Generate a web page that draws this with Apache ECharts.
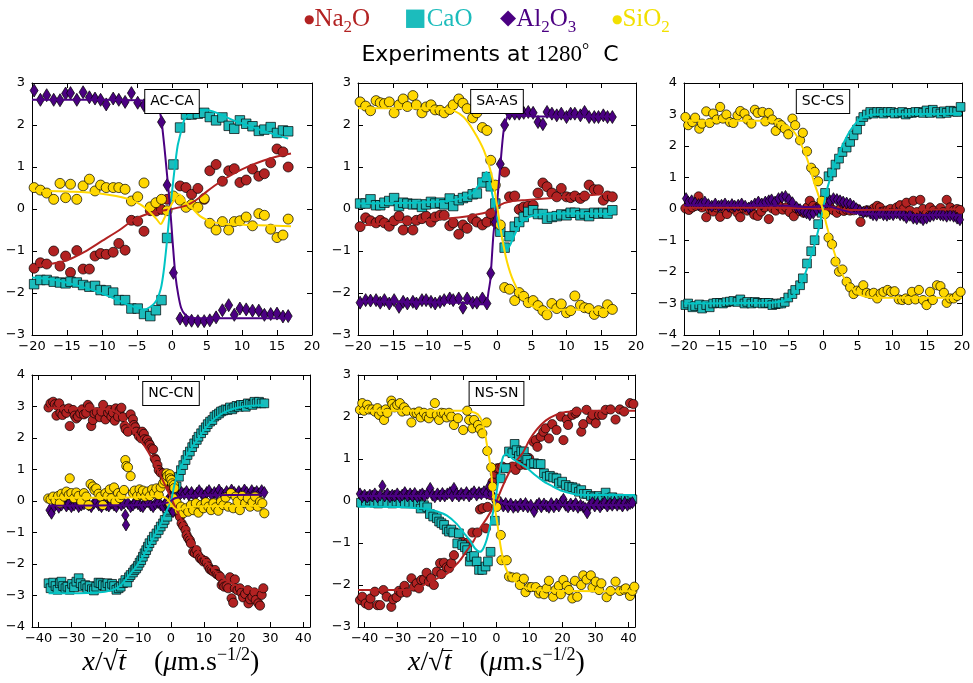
<!DOCTYPE html>
<html>
<head>
<meta charset="utf-8">
<script src="https://cdn.jsdelivr.net/npm/echarts@6.0.0/dist/echarts.min.js"></script>
<style>
html,body{margin:0;padding:0;background:#fff;}
#chart{width:973px;height:683px;}
</style>
</head>
<body>
<div id="chart"></div>
<script>
// ---------------- species ----------------
const speciesKeys = ['Na', 'Ca', 'Al', 'Si'];
const panelNames = ['AC-CA', 'SA-AS', 'SC-CS', 'NC-CN', 'NS-SN'];
const tickWide = [-40, -30, -20, -10, 0, 10, 20, 30, 40];

// ---------------- AC-CA ----------------
const acX = [-19.7,-18.8,-17.9,-16.9,-16.0,-15.2,-14.5,-13.6,-12.7,-11.8,-11.0,-10.2,-9.4,-8.4,-7.6,-6.7,-5.8,-4.9,-4.0,-3.1,-2.3,-1.5,-0.7,0.2,1.15,2.0,2.8,3.7,4.6,5.4,6.3,7.2,8.1,8.9,9.7,10.6,11.5,12.4,13.2,14.1,15.0,15.85,16.6];
const acNa = [-1.41,-1.28,-1.31,-1.0,-1.36,-1.12,-1.51,-0.99,-1.43,-1.43,-1.12,-1.06,-1.08,-1.03,-0.82,-0.98,-0.27,-0.29,-0.53,-0.04,-0.05,-0.01,0.23,null,0.55,0.51,0.35,0.49,0.23,0.91,1.06,0.66,0.91,0.96,0.63,0.69,0.95,0.78,0.84,1.10,1.43,1.36,1.00];
const acCa = [-1.79,-1.69,-1.69,-1.73,-1.75,-1.77,-1.73,-1.75,-1.81,-1.85,-1.83,-1.93,-1.94,-1.99,-2.17,-2.17,-2.37,-2.37,-2.50,-2.55,-2.41,-2.17,-0.69,1.06,1.94,2.25,2.25,2.27,2.29,2.19,2.11,2.18,1.98,1.91,2.11,2.03,1.97,1.86,1.89,1.95,1.81,1.87,1.85];
const acAl = [2.82,2.60,2.71,2.60,2.59,2.75,2.76,2.60,2.78,2.66,2.63,2.60,2.49,2.63,2.60,2.55,2.76,2.53,2.47,2.55,2.50,2.07,0.57,-1.52,-2.61,-2.65,-2.66,-2.67,-2.67,-2.65,-2.58,-2.41,-2.29,-2.52,-2.37,-2.39,-2.42,-2.42,-2.52,-2.50,-2.49,-2.56,-2.55];
const acSi = [0.51,0.45,0.38,0.23,0.61,0.27,0.59,0.23,0.55,0.71,0.43,0.57,0.51,0.51,0.51,0.47,0.19,0.29,0.62,0.05,0.15,0.23,-0.04,0.31,0.21,0.04,0.11,0.04,0.25,-0.34,-0.50,-0.30,-0.50,-0.30,-0.28,-0.19,-0.40,-0.11,-0.15,-0.48,-0.68,-0.62,-0.24];
const acNaFit = [[-20,-1.38],[-17,-1.3],[-15,-1.22],[-12.5,-1.02],[-10,-0.76],[-7.5,-0.5],[-5.5,-0.26],[-3.5,-0.12],[-2,-0.06],[0,0],[2,0.08],[3.5,0.22],[5,0.42],[7,0.66],[9,0.86],[11,1.02],[13,1.15],[15,1.25],[17,1.32]];
const acCaFit = [[-20,-1.63],[-17,-1.68],[-14,-1.8],[-11,-1.95],[-8,-2.15],[-6,-2.3],[-5,-2.35],[-4,-2.39],[-3,-2.32],[-2.2,-2.17],[-1.6,-1.9],[-1.2,-1.5],[-0.8,-0.9],[-0.4,-0.2],[0,0.4],[0.4,1.0],[0.8,1.5],[1.15,1.75],[1.6,2.05],[2,2.19],[3,2.3],[4,2.36],[5,2.36],[6.5,2.28],[8.8,2.11],[11,1.98],[13.6,1.83],[16.6,1.68]];
const acAlFit = [[-20,2.6],[-10,2.6],[-5,2.59],[-3,2.57],[-2.2,2.52],[-1.8,2.35],[-1.5,2.1],[-1.1,1.5],[-0.7,0.8],[-0.3,0.1],[0.1,-0.8],[0.5,-1.6],[0.9,-2.05],[1.3,-2.35],[1.8,-2.5],[2.5,-2.58],[4,-2.6],[17,-2.6]];
const acSiFit = [[-20,0.44],[-14,0.41],[-10.3,0.37],[-8,0.31],[-6.5,0.25],[-5,0.15],[-4,0.05],[-3,-0.1],[-2.2,-0.24],[-1.6,-0.36],[-1.1,-0.22],[-0.6,-0.05],[0,0.13],[0.5,0.27],[0.9,0.35],[1.4,0.3],[2.1,0.13],[3,0.0],[4,-0.17],[5,-0.26],[6.4,-0.33],[8,-0.36],[11,-0.38],[17,-0.41]];

// ---------------- SA-AS ----------------
const saX = [-19.7,-18.9,-18.2,-17.4,-16.8,-16.2,-15.5,-14.8,-14.1,-13.5,-12.9,-12.1,-11.6,-10.8,-10.2,-9.5,-8.9,-8.2,-7.6,-6.8,-6.3,-5.5,-4.9,-4.3,-3.5,-2.9,-2.1,-1.45,-0.9,-0.24,0.48,1.1,1.8,2.55,3.2,3.85,4.5,5.2,5.9,6.6,7.2,7.9,8.6,9.25,10.0,10.6,11.2,12.0,12.6,13.25,14.0,14.6,15.3,15.9,16.6];
const saNa = [-0.42,-0.21,-0.28,-0.33,-0.27,-0.33,-0.41,-0.28,-0.17,-0.50,-0.28,-0.50,-0.27,-0.23,-0.17,-0.31,-0.19,-0.15,-0.15,-0.40,-0.33,-0.60,-0.38,-0.46,-0.23,-0.31,-0.38,-0.31,-0.11,-0.31,null,0.88,0.29,0.31,-0.01,0.05,0.07,0.09,0.38,0.62,0.53,0.38,0.29,0.49,0.29,0.27,0.31,0.25,0.31,0.57,0.46,0.46,0.21,0.31,0.29];
const saCa = [0.13,0.13,0.23,0.09,0.09,0.15,0.19,0.26,0.07,0.15,0.13,0.11,0.12,0.05,0.11,0.17,0.13,0.15,0.11,0.25,0.07,0.21,0.26,0.29,0.35,0.37,0.63,0.76,0.54,0.13,-0.54,-0.92,-0.65,-0.42,-0.31,-0.19,-0.07,-0.03,-0.12,-0.12,-0.23,-0.19,-0.17,-0.13,-0.15,-0.09,-0.09,-0.15,-0.11,-0.17,-0.09,-0.11,-0.09,-0.11,-0.03];
const saAl = [-2.23,-2.17,-2.18,-2.17,-2.23,-2.17,-2.25,-2.17,-2.33,-2.21,-2.25,-2.21,-2.25,-2.17,-2.17,-2.21,-2.25,-2.21,-2.17,-2.13,-2.17,-2.13,-2.35,-2.13,-2.23,-2.23,-2.13,-2.25,-1.53,-0.31,1.07,2.0,2.27,2.27,2.27,2.29,2.31,2.29,2.07,2.02,2.31,2.27,2.23,2.27,2.19,2.27,2.27,2.23,2.31,2.19,2.19,2.19,2.23,2.19,2.19];
const saSi = [2.55,2.45,2.34,2.58,2.53,2.51,2.55,2.29,2.48,2.62,2.44,2.70,2.48,2.29,2.43,2.48,2.36,2.35,2.29,2.37,2.48,2.62,2.52,2.39,2.17,2.29,1.94,1.87,1.16,0.57,-0.38,-1.87,-1.91,-2.18,-1.99,-2.08,-2.23,-2.18,-2.30,-2.42,-2.52,-2.25,-2.37,-2.26,-2.47,-2.42,-2.07,-2.29,-2.35,-2.37,-2.51,-2.42,-2.47,-2.28,-2.39];
const saNaFit = [[-20,-0.4],[-15,-0.33],[-10,-0.26],[-5,-0.19],[-2,-0.1],[-1,-0.05],[0,0.05],[1,0.14],[2,0.18],[4,0.21],[8,0.26],[12,0.31],[16.6,0.37]];
const saCaFit = [[-20,0.13],[-12,0.15],[-8,0.18],[-6.3,0.21],[-4.5,0.3],[-3.4,0.4],[-2.5,0.6],[-2.1,0.72],[-1.5,0.88],[-1.0,0.6],[-0.5,0.2],[0,-0.2],[0.5,-0.55],[1.0,-0.82],[1.45,-0.94],[1.9,-0.85],[2.4,-0.66],[3.4,-0.34],[4.5,-0.2],[5.3,-0.15],[8.2,-0.11],[12,-0.11],[16.6,-0.12]];
const saAlFit = [[-20,-2.2],[-5,-2.23],[-2.5,-2.27],[-1.8,-2.27],[-1.45,-2.2],[-1.2,-1.95],[-0.96,-1.69],[-0.5,-0.58],[0,0.13],[0.5,1.08],[0.96,1.87],[1.45,2.19],[1.9,2.27],[3,2.24],[6,2.2],[16.6,2.2]];
const saSiFit = [[-20,2.4],[-10,2.4],[-7.5,2.38],[-6.3,2.35],[-4.8,2.19],[-3.4,1.87],[-1.9,1.4],[-0.7,0.76],[0,0.09],[0.7,-0.66],[1.45,-1.26],[2.4,-1.73],[3.9,-2.17],[5.8,-2.37],[8.2,-2.4],[16.6,-2.4]];

// ---------------- SC-CS ----------------
const scX = [-19.8,-19.4,-18.8,-18.4,-17.8,-17.4,-16.8,-16.3,-15.8,-15.3,-14.8,-14.4,-13.9,-13.4,-12.9,-12.3,-11.9,-11.3,-10.9,-10.3,-9.8,-9.4,-8.7,-8.3,-7.8,-7.3,-6.8,-6.4,-6.0,-5.5,-5.0,-4.4,-4.0,-3.3,-2.9,-2.3,-1.7,-1.2,-0.7,-0.2,0.3,0.8,1.3,1.8,2.3,2.8,3.4,3.9,4.4,4.9,5.4,5.8,6.3,6.8,7.3,7.8,8.3,8.7,9.3,9.8,10.3,10.9,11.4,11.9,12.3,12.8,13.3,13.8,14.4,14.9,15.4,15.8,16.4,16.9,17.4,17.8,18.3,18.8,19.3,19.8];
const scCa = [-3.05,-3.0,-3.12,-3.08,-3.03,-3.16,-3.05,-3.12,-3.0,-2.98,-2.98,-3.0,-2.96,-2.94,-2.92,-2.95,-2.87,-3.0,-2.95,-3.0,-2.95,-2.98,-3.0,-2.98,-2.98,-3.05,-3.02,-3.0,-3.0,-2.95,-2.81,-2.70,-2.57,-2.42,-2.20,-1.73,-1.34,-0.99,-0.48,-0.12,0.51,1.04,1.16,1.41,1.60,1.81,1.95,2.13,2.34,2.52,2.79,2.92,3.0,3.08,3.03,3.08,3.08,3.03,3.08,3.08,3.03,3.05,3.08,3.0,3.05,3.05,3.08,3.08,3.05,3.13,3.05,3.15,3.08,3.03,3.1,3.05,3.12,3.1,3.08,3.24];
const scSi = [2.92,2.66,2.76,2.90,2.55,2.71,3.10,2.73,3.03,2.84,3.24,2.87,3.00,2.76,2.73,2.97,3.11,3.03,2.84,2.71,3.15,3.05,3.08,2.78,3.05,2.84,2.48,2.73,2.66,2.55,2.37,2.87,2.66,2.18,2.42,1.83,1.31,1.18,0.88,0.26,-0.16,-0.91,-1.12,-1.67,-1.99,-1.92,-2.31,-2.49,-2.70,-2.59,-2.59,-2.42,-2.66,-2.70,-2.66,-2.84,-2.68,-2.63,-2.57,-2.63,-2.61,-2.87,-2.89,-2.84,-2.89,-2.63,-2.87,-2.57,-2.89,-3.05,-2.63,-2.89,-2.42,-2.45,-2.66,-2.98,-2.84,-2.84,-2.76,-2.63];
const scNa = [[-19.8,0.02],[-19.3,-0.03],[-18.8,0.05],[-18.3,0.1],[-17.9,0.4],[-17.4,0.05],[-16.8,-0.26],[-16.3,0.0],[-15.8,-0.08],[-15.3,0.05],[-14.8,-0.25],[-14.3,0.02],[-13.8,-0.16],[-13.3,0.05],[-12.8,0.0],[-12.3,-0.12],[-11.9,-0.26],[-11.4,0.02],[-10.9,-0.05],[-10.4,0.05],[-9.9,-0.18],[-9.4,-0.22],[-8.9,-0.08],[-8.4,0.05],[-7.8,-0.32],[-7.3,0.02],[-6.8,-0.05],[-6.3,0.1],[-5.8,-0.02],[-5.3,0.05],[-4.8,-0.1],[-4.2,-0.23],[-3.8,0.02],[-3.3,-0.07],[-2.8,-0.12],[-2.3,0.05],[-1.9,0.26],[-1.4,0.1],[-0.9,0.03],[-0.4,0.12],[0.1,0.02],[0.5,-0.06],[1.0,0.05],[1.5,-0.04],[2.0,-0.12],[2.5,0.0],[3.0,-0.06],[3.4,-0.02],[3.9,-0.05],[4.4,-0.04],[4.9,0.0],[5.4,-0.41],[5.9,-0.1],[6.3,-0.04],[6.8,-0.05],[7.3,0.02],[7.8,0.1],[8.2,0.05],[8.7,-0.08],[9.2,-0.05],[9.7,0.0],[10.2,-0.1],[10.6,0.05],[11.1,0.12],[11.6,0.0],[12.0,0.2],[12.5,-0.05],[13.0,0.26],[13.5,-0.1],[14.0,0.29],[14.4,0.0],[14.9,-0.15],[15.4,0.05],[15.9,-0.05],[16.4,-0.12],[16.9,0.03],[17.3,-0.1],[17.8,0.29],[18.3,0.05],[18.8,-0.05],[19.3,0.0],[19.7,-0.03]];
const scAl = [[-19.7,0.33],[-19.4,0.22],[-18.9,0.26],[-18.4,0.19],[-17.9,0.14],[-17.5,0.16],[-17.0,0.22],[-16.5,0.14],[-16.0,0.09],[-15.5,0.16],[-15.0,0.09],[-14.6,0.12],[-14.1,0.16],[-13.6,0.09],[-13.1,0.14],[-12.7,0.09],[-12.2,0.12],[-11.7,0.16],[-11.2,0.09],[-10.7,0.03],[-10.3,0.09],[-9.8,0.16],[-9.3,0.22],[-8.8,0.16],[-8.3,0.22],[-7.8,0.26],[-7.4,0.29],[-6.9,0.22],[-6.4,0.33],[-5.9,0.37],[-5.4,0.40],[-4.9,0.30],[-4.4,0.2],[-3.8,0.05],[-3.3,-0.02],[-2.8,-0.08],[-2.35,-0.13],[-1.9,-0.18],[-1.4,-0.13],[-0.9,-0.02],[-0.4,0.03],[0.05,0.09],[0.53,0.19],[1.0,0.26],[1.5,0.33],[2.0,0.30],[2.45,0.26],[2.9,0.22],[3.4,0.19],[3.9,0.16],[4.4,0.09],[4.8,0.01],[5.3,-0.05],[5.8,-0.10],[6.3,-0.08],[6.8,-0.13],[7.2,-0.18],[7.7,-0.20],[8.2,-0.13],[8.7,-0.18],[9.2,-0.20],[9.6,-0.16],[10.1,-0.18],[10.6,-0.13],[11.1,-0.18],[11.6,-0.20],[12.0,-0.27],[12.5,-0.20],[13.0,-0.29],[13.5,-0.31],[14.0,-0.27],[14.4,-0.34],[14.9,-0.29],[15.4,-0.23],[15.9,-0.20],[16.4,-0.16],[16.9,-0.18],[17.3,-0.20],[17.8,-0.23],[18.3,-0.20],[18.8,-0.23],[19.3,-0.29],[19.7,-0.34]];
const scNaFit = [[-20,0.04],[-10,0.04],[-5,0.03],[-2,0.02],[0,0.0],[2,-0.02],[5,-0.03],[10,-0.02],[20,-0.01]];
const scCaFit = [[-20,-3.0],[-8,-2.98],[-6.5,-2.95],[-5.15,-2.88],[-4.3,-2.75],[-3.7,-2.57],[-3,-2.3],[-2.3,-1.89],[-1.8,-1.55],[-1.3,-1.2],[-0.6,-0.6],[0,0],[0.5,0.55],[1.1,1.02],[1.8,1.5],[2.5,1.87],[3.2,2.2],[3.95,2.5],[4.7,2.72],[5.4,2.87],[6.3,2.95],[7.3,3.0],[20,3.02]];
const scAlFit = [[-20,0.12],[-10,0.12],[-5,0.1],[-2,0.06],[0,0.1],[1,0.08],[2.5,-0.02],[4,-0.1],[6,-0.15],[9,-0.18],[20,-0.2]];
const scSiFit = [[-20,2.8],[-8,2.8],[-6.5,2.74],[-5.15,2.63],[-4.3,2.48],[-3.7,2.29],[-3,1.98],[-2.3,1.6],[-1.8,1.25],[-1.3,0.86],[-0.6,0.4],[0,-0.04],[0.5,-0.5],[1.1,-0.99],[1.8,-1.5],[2.5,-1.94],[3.2,-2.25],[3.95,-2.47],[4.7,-2.63],[5.4,-2.73],[6.3,-2.79],[7.3,-2.82],[20,-2.82]];

// ---------------- NC-CN ----------------
const ncNa = [[-37.0,2.97],[-36.4,3.10],[-35.6,3.15],[-35.1,3.07],[-34.3,3.02],[-33.8,3.10],[-34.6,2.71],[-33.4,2.80],[-32.8,2.73],[-32.3,2.91],[-31.6,2.80],[-30.9,2.94],[-30.6,2.38],[-29.6,2.89],[-29.1,2.71],[-28.6,2.62],[-28.1,2.68],[-27.4,2.78],[-26.8,2.91],[-26.3,2.75],[-25.6,2.80],[-25.1,3.05],[-24.6,2.97],[-24.1,2.38],[-23.6,2.57],[-23.1,2.78],[-22.4,2.82],[-21.5,2.66],[-21.0,2.84],[-20.5,3.05],[-19.8,2.59],[-19.0,2.80],[-18.5,2.89],[-18.0,2.68],[-17.5,2.80],[-17.0,2.55],[-16.7,2.94],[-16.0,2.68],[-15.5,2.89],[-15.0,2.96],[-14.5,2.66],[-14.0,2.38],[-13.7,2.28],[-13.0,2.20],[-12.2,2.75],[-11.5,2.59],[-11.2,2.41],[-10.8,2.34],[-10.5,2.20],[-9.7,2.06],[-9.0,1.99],[-8.7,2.20],[-8.2,2.13],[-8.0,1.96],[-7.5,1.88],[-7.2,1.94],[-6.7,1.83],[-6.4,1.78],[-5.9,1.67],[-5.4,1.64],[-4.9,1.35],[-4.6,1.30],[-4.1,1.14],[-3.7,0.98],[-3.1,0.90],[-2.4,0.88],[-1.9,0.72],[-1.1,0.72],[-0.4,0.61],[0.3,0.51],[-0.6,0.56],[0.0,0.4],[0.7,0.30],[1.2,0.05],[1.8,-0.2],[2.2,-0.39],[2.7,-0.5],[3.2,-0.71],[3.7,-0.8],[4.4,-0.92],[4.7,-1.08],[5.2,-1.18],[5.7,-1.25],[6.0,-1.34],[6.7,-1.61],[7.2,-1.65],[7.7,-1.56],[8.1,-1.71],[8.8,-1.82],[9.3,-1.85],[9.8,-1.92],[10.3,-1.9],[10.8,-1.96],[11.3,-2.08],[11.8,-2.17],[12.3,-2.2],[12.8,-2.24],[13.3,-2.19],[13.8,-2.32],[14.3,-2.35],[14.8,-2.4],[15.3,-2.67],[15.8,-2.62],[16.1,-2.72],[16.8,-2.70],[17.3,-2.77],[17.8,-2.42],[18.3,-3.09],[18.8,-3.23],[19.3,-2.49],[19.3,-2.77],[20.1,-2.83],[20.8,-2.77],[21.3,-2.91],[21.8,-3.06],[22.4,-2.95],[23.2,-2.83],[23.4,-3.25],[23.9,-3.12],[24.6,-3.04],[25.2,-2.90],[25.6,-3.14],[26.4,-3.25],[26.9,-3.32],[27.4,-2.98],[27.9,-2.77]];
const ncCa = [[-37.0,-2.61],[-36.4,-2.77],[-35.6,-2.59],[-34.9,-2.70],[-34.3,-2.82],[-33.6,-2.61],[-33.1,-2.56],[-32.6,-2.70],[-31.9,-2.77],[-31.3,-2.72],[-30.6,-2.82],[-29.9,-2.63],[-29.3,-2.74],[-28.6,-2.56],[-27.9,-2.45],[-27.3,-2.61],[-26.6,-2.72],[-25.9,-2.67],[-25.3,-2.77],[-24.6,-2.70],[-23.9,-2.80],[-23.3,-2.84],[-22.6,-2.72],[-21.9,-2.59],[-21.3,-2.61],[-20.6,-2.67],[-19.8,-2.70],[-19.2,-2.61],[-18.5,-2.72],[-17.8,-2.63],[-17.2,-2.70],[-16.5,-2.82],[-15.8,-2.77],[-15.2,-2.72],[-14.5,-2.61],[-13.8,-2.51],[-13.2,-2.59],[-12.7,-2.42],[-12.2,-2.35],[-11.5,-2.27],[-11.0,-2.19],[-10.5,-2.14],[-10.0,-2.06],[-9.5,-1.96],[-9.0,-1.88],[-8.5,-1.77],[-8.0,-1.66],[-7.5,-1.56],[-7.0,-1.45],[-6.5,-1.34],[-5.8,-1.24],[-5.2,-1.13],[-4.4,-1.03],[-3.7,-0.92],[-3.1,-0.81],[-2.4,-0.71],[-1.9,-0.60],[-1.1,-0.50],[-0.4,-0.34],[0.3,-0.18],[-0.3,-0.28],[0.7,0.14],[1.7,0.46],[2.4,0.77],[3.0,0.98],[3.7,1.14],[4.4,1.30],[5.0,1.46],[5.7,1.57],[6.4,1.71],[7.0,1.83],[7.8,1.94],[8.3,2.04],[9.1,2.15],[9.8,2.25],[10.5,2.34],[11.1,2.44],[11.8,2.52],[12.5,2.57],[13.1,2.68],[13.8,2.73],[14.5,2.78],[15.1,2.84],[15.8,2.87],[16.5,2.91],[17.1,2.89],[17.8,2.97],[18.5,2.91],[19.1,2.97],[19.8,3.02],[20.5,2.99],[21.1,3.05],[21.9,3.05],[22.6,2.99],[23.2,3.10],[23.9,3.08],[24.6,3.05],[25.2,3.15],[25.9,3.10],[26.6,3.15],[27.4,3.10],[28.2,3.10]];
const ncAl = [[-36.7,-0.29],[-36.1,-0.39],[-35.3,-0.18],[-34.6,-0.07],[-33.9,-0.20],[-33.1,-0.13],[-32.3,-0.05],[-31.6,-0.16],[-30.9,-0.09],[-30.1,-0.18],[-29.3,-0.13],[-28.6,-0.05],[-27.9,-0.18],[-27.1,-0.13],[-26.3,-0.09],[-25.6,-0.02],[-24.9,-0.13],[-24.1,-0.18],[-23.3,-0.07],[-22.6,-0.02],[-21.8,-0.13],[-21.0,-0.18],[-20.2,-0.05],[-19.5,-0.13],[-18.8,-0.16],[-18.0,-0.07],[-17.2,-0.13],[-16.5,-0.18],[-15.8,-0.05],[-15.0,-0.13],[-14.2,-0.07],[-13.8,-0.45],[-13.6,-0.76],[-13.0,-0.07],[-12.2,-0.18],[-11.5,-0.13],[-10.8,-0.05],[-10.0,-0.09],[-9.2,-0.16],[-8.5,-0.18],[-7.8,-0.07],[-7.0,-0.02],[-6.1,-0.13],[-5.4,-0.18],[-4.7,-0.09],[-3.9,-0.05],[-3.1,-0.13],[-2.4,-0.18],[-1.7,-0.07],[-0.9,-0.13],[-0.1,-0.24],[0.6,-0.34],[-1.3,-0.02],[-0.6,0.09],[0.2,0.17],[1.0,0.23],[1.7,0.25],[2.4,0.16],[3.2,0.27],[4.0,0.23],[4.7,0.30],[5.4,0.19],[6.2,0.27],[7.1,0.16],[7.8,0.25],[8.5,0.33],[9.3,0.23],[10.1,0.16],[10.8,0.27],[11.5,0.33],[12.3,0.19],[13.1,0.27],[13.8,0.23],[14.5,0.35],[15.3,0.25],[16.1,0.19],[16.8,0.30],[17.5,0.23],[18.3,0.35],[19.1,0.27],[19.8,0.19],[20.5,0.30],[21.3,0.23],[22.2,0.35],[22.9,0.27],[23.6,0.19],[24.4,0.33],[25.2,0.25],[25.9,0.30],[26.6,0.23],[27.4,0.33],[28.2,0.27]];
const ncSi = [[-37.1,0.08],[-36.4,0.05],[-35.6,0.14],[-34.9,0.02],[-34.1,0.16],[-33.6,-0.07],[-33.1,0.23],[-32.3,0.14],[-31.6,0.30],[-30.9,0.19],[-30.6,0.72],[-30.1,0.25],[-29.3,0.09],[-28.6,0.27],[-27.9,0.16],[-27.1,-0.02],[-26.3,0.25],[-25.6,0.14],[-24.9,-0.13],[-24.3,0.54],[-23.6,0.46],[-23.1,0.35],[-22.6,0.40],[-21.9,0.23],[-21.3,0.14],[-20.6,-0.13],[-19.8,0.25],[-19.2,0.16],[-18.5,0.37],[-18.0,0.09],[-17.2,0.43],[-16.8,-0.02],[-16.0,0.25],[-15.5,0.09],[-15.0,0.19],[-14.2,0.35],[-13.8,1.30],[-13.5,1.11],[-13.0,1.07],[-12.2,0.79],[-11.5,0.25],[-11.0,0.33],[-10.2,0.16],[-9.5,0.37],[-9.0,0.19],[-8.5,0.33],[-7.8,0.14],[-7.2,0.30],[-6.4,0.16],[-5.7,0.37],[-5.1,0.25],[-4.4,0.40],[-3.7,0.19],[-3.1,0.43],[-2.4,0.56],[-1.9,0.64],[-1.3,0.88],[-1.1,0.79],[-0.4,0.85],[-0.3,0.72],[0.1,0.67],[0.4,0.56],[0.9,0.51],[1.0,0.41],[-0.3,-0.07],[0.7,0.09],[1.7,-0.04],[2.4,-0.29],[3.0,-0.18],[3.7,-0.39],[4.4,-0.23],[5.2,-0.34],[6.0,-0.13],[6.7,-0.29],[7.5,-0.07],[8.3,-0.37],[9.1,-0.13],[9.8,-0.23],[10.5,-0.04],[11.3,-0.18],[12.1,-0.29],[12.8,-0.07],[13.5,-0.20],[14.3,-0.31],[15.1,-0.02],[15.8,-0.13],[16.5,0.11],[17.3,-0.18],[18.1,0.25],[18.8,-0.23],[19.5,0.14],[20.1,-0.02],[20.8,-0.29],[21.5,0.16],[22.4,-0.07],[23.2,0.09],[23.9,-0.18],[24.6,-0.04],[25.4,0.14],[26.2,-0.18],[26.9,-0.02],[27.6,-0.07],[28.2,-0.39]];
const ncNaFit = [[-37,2.95],[-25,2.94],[-20,2.92],[-17,2.85],[-15,2.7],[-13.5,2.5],[-12,2.3],[-10,2.04],[-8,1.75],[-6,1.4],[-4,0.98],[-2,0.55],[0,0.1],[2,-0.35],[4,-0.8],[6,-1.2],[8,-1.55],[10,-1.85],[12,-2.1],[15,-2.4],[18,-2.6],[22,-2.75],[28,-2.85]];
const ncCaFit = [[-37,-2.93],[-25,-2.92],[-20,-2.88],[-17,-2.8],[-15,-2.65],[-13,-2.4],[-11,-2.15],[-9,-1.85],[-7,-1.5],[-5,-1.1],[-3,-0.7],[-1.5,-0.35],[0,0.0],[1,0.5],[2,0.85],[4,1.3],[6,1.65],[8,1.95],[10,2.25],[12,2.5],[15,2.75],[18,2.9],[22,3.0],[28,3.05]];
const ncAlFit = [[-37,-0.15],[-10,-0.13],[-4,-0.1],[-1,-0.05],[0,0.0],[1,0.08],[4,0.15],[10,0.18],[28,0.2]];
const ncSiFit = [[-37,0.1],[-20,0.1],[-10,0.12],[-5,0.15],[-2,0.12],[-1,0.05],[0,-0.1],[1,-0.22],[2,-0.28],[3,-0.25],[5,-0.2],[10,-0.17],[28,-0.15]];

// ---------------- NS-SN ----------------
const nsNa = [[-41.4,-2.36],[-40.7,-2.28],[-39.7,-2.44],[-38.7,-2.48],[-38.2,-2.32],[-36.9,-2.16],[-36.1,-2.48],[-35.3,-2.48],[-34.3,-2.12],[-33.3,-2.28],[-31.9,-2.52],[-31.3,-2.34],[-30.3,-2.29],[-29.6,-2.14],[-28.9,-2.18],[-27.9,-2.02],[-27.2,-2.18],[-25.8,-1.84],[-25.0,-2.04],[-24.2,-1.96],[-23.5,-2.08],[-22.8,-1.88],[-22.0,-1.87],[-21.2,-1.71],[-20.5,-1.92],[-19.8,-1.84],[-19.0,-2.0],[-18.1,-1.68],[-17.1,-1.48],[-16.7,-1.74],[-15.9,-1.47],[-15.1,-1.58],[-14.4,-1.60],[-13.7,-1.48],[-12.9,-1.29],[-10.4,-0.97],[-8.9,-1.0],[-7.3,-0.75],[-5.8,-0.75],[-5.0,-0.2],[-4.2,-0.17],[-3.2,-0.65],[-2.7,-0.14],[-1.8,0.14],[-1.2,0.45],[-0.5,0.65],[0.25,0.78],[0.8,0.78],[1.8,0.82],[3.3,0.78],[4.8,0.82],[5.8,0.74],[7.3,0.86],[8.8,0.86],[9.9,1.02],[11.2,1.41],[11.9,1.45],[12.4,1.29],[13.4,1.53],[14.2,1.65],[14.9,1.73],[15.9,1.49],[16.9,1.83],[18.2,1.69],[19.5,2.01],[20.3,1.45],[21.3,1.94],[21.7,1.81],[23.0,2.05],[24.0,2.09],[24.3,2.13],[25.7,1.65],[26.3,1.83],[27.3,2.17],[28.6,1.94],[29.1,2.05],[30.1,1.85],[31.1,2.05],[32.1,2.05],[33.1,2.17],[34.6,2.18],[36.1,1.94],[37.4,2.18],[38.7,2.13],[40.5,2.33],[41.5,2.31]];
const nsCa = [[-41.1,-0.04],[-39.6,-0.02],[-38.4,0.01],[-37.1,-0.04],[-35.9,-0.06],[-34.6,-0.02],[-33.1,-0.04],[-31.6,-0.06],[-30.3,-0.02],[-29.1,-0.04],[-27.8,-0.06],[-26.5,-0.04],[-25.2,-0.06],[-23.8,-0.06],[-23.0,-0.18],[-22.0,-0.10],[-21.0,-0.15],[-20.2,-0.31],[-19.2,-0.37],[-18.1,-0.41],[-17.4,-0.49],[-16.7,-0.53],[-15.9,-0.57],[-15.1,-0.68],[-14.4,-0.73],[-13.7,-0.68],[-13.1,-0.75],[-11.9,-1.01],[-11.4,-0.77],[-10.4,-1.05],[-9.6,-1.10],[-8.9,-1.17],[-8.1,-1.44],[-7.7,-1.33],[-6.8,-1.31],[-6.0,-1.44],[-5.3,-1.64],[-4.3,-1.64],[-3.3,-1.56],[-2.6,-1.44],[-1.8,-1.21],[-0.5,-0.47],[1.26,0.54],[2.8,0.78],[3.79,1.18],[4.8,1.14],[5.5,1.36],[6.1,1.21],[6.8,1.07],[7.5,1.18],[8.3,1.18],[8.8,1.02],[9.3,0.98],[10.4,0.88],[11.4,0.90],[12.6,0.88],[13.4,0.88],[14.4,0.66],[15.2,0.58],[16.2,0.60],[17.2,0.56],[18.2,0.54],[18.9,0.42],[19.9,0.46],[21.0,0.38],[22.0,0.34],[23.0,0.33],[24.0,0.30],[25.0,0.22],[25.7,0.26],[26.5,0.17],[27.5,0.17],[28.6,0.12],[29.6,0.09],[31.1,0.12],[32.1,0.06],[33.1,0.20],[34.1,0.06],[35.1,0.09],[36.1,0.04],[37.1,0.06],[38.2,0.02],[39.2,0.04],[40.2,0.02],[41.2,0.04]];
const nsAl = [[-41.4,0.17],[-40.7,0.10],[-40.0,0.14],[-39.2,0.09],[-38.4,0.14],[-37.7,0.12],[-36.9,0.17],[-36.1,0.10],[-35.3,0.14],[-34.6,0.36],[-33.9,0.12],[-33.1,0.17],[-32.3,0.10],[-31.6,0.14],[-30.9,0.12],[-30.1,0.17],[-29.3,0.10],[-28.6,0.14],[-27.8,0.20],[-27.0,0.12],[-26.2,0.17],[-25.5,0.12],[-24.8,0.18],[-24.0,0.10],[-23.2,0.14],[-22.5,0.17],[-21.8,0.12],[-20.9,0.18],[-20.1,0.30],[-19.4,0.14],[-18.7,0.10],[-17.9,0.17],[-17.1,0.12],[-16.4,0.18],[-15.7,0.12],[-14.9,0.17],[-14.1,0.20],[-13.4,0.12],[-12.9,0.30],[-12.1,0.17],[-11.4,0.12],[-10.7,0.18],[-9.9,0.14],[-9.1,0.20],[-8.3,0.12],[-7.6,0.17],[-6.8,0.22],[-6.0,0.14],[-5.3,0.20],[-4.6,0.17],[-3.8,0.22],[-3.0,0.18],[-2.3,0.34],[-1.6,0.17],[-0.25,-0.02],[0.45,-0.10],[1.26,-0.04],[2.07,-0.12],[2.78,-0.06],[3.49,-0.14],[4.3,-0.07],[5.1,-0.15],[5.8,-0.10],[6.5,-0.14],[7.3,-0.07],[8.1,-0.12],[8.8,-0.06],[9.5,-0.14],[10.4,-0.10],[11.4,-0.25],[12.2,-0.10],[12.9,-0.06],[13.6,-0.14],[14.4,-0.07],[15.2,-0.12],[15.9,-0.15],[16.6,-0.06],[17.4,-0.14],[18.2,-0.07],[18.9,-0.12],[19.7,-0.02],[20.3,0.04],[21.0,-0.10],[21.7,-0.14],[22.5,-0.07],[23.3,-0.12],[24.0,-0.06],[24.7,-0.15],[25.5,-0.10],[26.3,-0.14],[27.0,-0.18],[27.5,-0.28],[28.3,-0.10],[29.1,-0.04],[29.8,-0.12],[30.6,-0.06],[31.4,-0.14],[32.1,-0.07],[32.8,-0.04],[33.6,-0.12],[34.4,-0.06],[35.1,-0.10],[35.8,-0.04],[36.6,-0.10],[37.4,-0.06],[38.2,-0.12],[38.9,-0.04],[39.7,-0.10],[40.5,-0.06],[41.2,-0.04]];
const nsSi = [[-41.4,2.17],[-40.7,2.33],[-40.2,2.15],[-39.2,2.29],[-38.7,2.18],[-37.7,2.18],[-36.9,2.13],[-36.1,2.21],[-35.6,2.05],[-34.9,2.13],[-34.1,1.93],[-33.6,2.18],[-33.1,2.10],[-31.9,2.39],[-31.6,2.31],[-30.9,2.23],[-30.1,2.29],[-29.3,2.33],[-28.6,2.13],[-28.0,2.23],[-27.2,2.15],[-25.8,1.87],[-25.0,2.10],[-24.2,2.09],[-23.5,2.13],[-23.0,1.99],[-22.0,2.10],[-21.2,2.01],[-20.5,1.97],[-20.0,2.09],[-18.7,2.33],[-18.1,2.05],[-17.4,1.93],[-16.7,2.10],[-15.9,2.09],[-15.1,1.99],[-14.4,2.10],[-13.7,2.01],[-12.9,1.81],[-11.7,1.97],[-10.1,1.69],[-8.9,2.15],[-8.3,1.93],[-7.3,1.73],[-6.8,1.93],[-5.6,1.81],[-5.0,1.71],[-4.3,1.61],[-3.0,1.87],[-2.8,1.19],[-1.6,0.80],[-1.2,0.34],[-0.25,0.06],[0.05,-0.14],[1.3,-0.81],[1.5,-1.41],[3.1,-1.41],[3.8,-1.80],[4.8,-1.82],[6.1,-1.82],[7.1,-2.0],[8.3,-1.85],[8.8,-2.17],[9.9,-2.05],[10.6,-2.05],[11.9,-2.05],[12.9,-2.2],[13.4,-2.14],[14.4,-2.22],[15.2,-2.08],[15.9,-1.90],[17.2,-2.28],[17.9,-2.12],[18.9,-2.02],[19.5,-2.22],[20.3,-1.88],[21.3,-2.02],[22.0,-2.12],[23.0,-2.32],[23.8,-1.90],[24.5,-2.28],[25.7,-2.0],[26.3,-1.77],[27.3,-1.87],[28.6,-1.77],[29.1,-2.06],[30.1,-1.92],[31.1,-2.12],[31.8,-1.96],[33.4,-2.29],[34.6,-2.14],[36.1,-1.92],[37.4,-2.14],[38.7,-2.11],[39.2,-2.08],[40.5,-2.26],[41.2,-2.14],[41.8,-2.04]];
const nsNaFit = [[-42,-2.12],[-28,-2.12],[-24,-2.07],[-21,-1.96],[-18,-1.84],[-15,-1.73],[-13,-1.58],[-11,-1.41],[-9,-1.18],[-7,-0.96],[-5,-0.65],[-3,-0.42],[-1,-0.15],[0,0.0],[2,0.37],[4,0.7],[6,0.95],[8,1.15],[10,1.45],[12,1.68],[15,1.92],[18,2.05],[21,2.12],[30,2.15],[42,2.15]];
const nsCaFit = [[-42,-0.13],[-30,-0.14],[-22,-0.18],[-18,-0.25],[-15,-0.35],[-12,-0.55],[-10,-0.75],[-8,-0.95],[-6.5,-1.13],[-5,-1.21],[-4,-1.13],[-3,-0.93],[-2,-0.61],[-1,-0.25],[0,0.2],[1,0.7],[2,1.05],[3,1.12],[5,1.0],[7,0.9],[9.3,0.78],[12,0.6],[14.4,0.46],[17,0.35],[19.5,0.25],[25,0.15],[42,0.14]];
const nsAlFit = [[-42,0.12],[-10,0.12],[-3,0.1],[0,0.0],[3,-0.07],[10,-0.09],[42,-0.1]];
const nsSiFit = [[-42,2.15],[-10,2.15],[-6.5,2.1],[-5,2.0],[-3.8,1.73],[-2.8,1.29],[-1.8,0.81],[-0.8,0.0],[0.25,-0.53],[1.26,-1.09],[2.3,-1.48],[3.8,-1.76],[6.3,-1.96],[9.3,-2.08],[15,-2.13],[42,-2.15]];

// ---------------- assembly ----------------
const zipXY = (xs, ys) => xs.map((x, i) => [x, ys[i]]).filter(p => p[1] !== null);

const STYLE = {
  Na: {color: '#b22222', line: '#b22222', symbol: 'circle', size: 10},
  Ca: {color: '#1cbcbc', line: '#00c4c4', symbol: 'rect', size: 9.5},
  Al: {color: '#4b0082', line: '#4b0082', symbol: 'diamond', size: [8, 13]},
  Si: {color: '#ffd700', line: '#ffd700', symbol: 'circle', size: 10}
};

const panels = [
  {rect: [32, 83, 280, 252], x: [-20, 20, 5], y: [-3, 3, 1], scale: 1,
   pts: {Na: zipXY(acX, acNa), Ca: zipXY(acX, acCa), Al: zipXY(acX, acAl), Si: zipXY(acX, acSi)},
   fit: {Na: acNaFit, Ca: acCaFit, Al: acAlFit, Si: acSiFit}},
  {rect: [358, 83, 278, 252], x: [-20, 20, 5], y: [-3, 3, 1], scale: 1,
   pts: {Na: zipXY(saX, saNa), Ca: zipXY(saX, saCa), Al: zipXY(saX, saAl), Si: zipXY(saX, saSi)},
   fit: {Na: saNaFit, Ca: saCaFit, Al: saAlFit, Si: saSiFit}},
  {rect: [684, 83, 278, 252], x: [-20, 20, 5], y: [-4, 4, 1], scale: 0.92,
   pts: {Na: scNa, Ca: zipXY(scX, scCa), Al: scAl, Si: zipXY(scX, scSi)},
   fit: {Na: scNaFit, Ca: scCaFit, Al: scAlFit, Si: scSiFit}},
  {rect: [32, 375, 278, 252], x: [-42, 42], xTicks: tickWide, y: [-4, 4, 1], scale: 0.92,
   pts: {Na: ncNa, Ca: ncCa, Al: ncAl, Si: ncSi},
   fit: {Na: ncNaFit, Ca: ncCaFit, Al: ncAlFit, Si: ncSiFit}},
  {rect: [358, 375, 277, 252], x: [-42, 42], xTicks: tickWide, y: [-3, 3, 1], scale: 0.92,
   pts: {Na: nsNa, Ca: nsCa, Al: nsAl, Si: nsSi},
   fit: {Na: nsNaFit, Ca: nsCaFit, Al: nsAlFit, Si: nsSiFit}}
];

const SANS = '"DejaVu Sans", sans-serif';
const SERIF = '"Liberation Serif", "DejaVu Serif", serif';
const minusFmt = v => (v < 0 ? '\u2212' + Math.abs(v) : String(v));

function axis(gi, kind, pos, range, ticks, labels) {
  const a = {
    type: 'value', gridIndex: gi, position: pos, min: range[0], max: range[1],
    axisLine: {show: true, onZero: false, lineStyle: {color: '#000', width: 1}},
    axisTick: {show: true, inside: true, length: 5, lineStyle: {color: '#000', width: 1}},
    splitLine: {show: false},
    axisLabel: {show: labels, color: '#000', fontSize: 13, fontFamily: SANS,
                margin: kind === 'x' ? 5 : 7, formatter: minusFmt, hideOverlap: false,
                showMinLabel: true, showMaxLabel: true},
    axisPointer: {show: false}
  };
  if (ticks) {
    a.axisTick.customValues = ticks;
    a.axisLabel.customValues = ticks;
  } else {
    a.interval = range[2];
  }
  return a;
}

const grids = [], xAxes = [], yAxes = [], series = [], graphics = [];
panels.forEach((p, gi) => {
  grids.push({left: p.rect[0], top: p.rect[1], width: p.rect[2], height: p.rect[3], containLabel: false, outerBoundsMode: 'none'});
  xAxes.push(axis(gi, 'x', 'bottom', p.x, p.xTicks, true));
  xAxes.push(axis(gi, 'x', 'top', p.x, p.xTicks, false));
  yAxes.push(axis(gi, 'y', 'left', p.y, null, true));
  yAxes.push(axis(gi, 'y', 'right', p.y, null, false));
  const xi = gi * 2, yi = gi * 2;
  speciesKeys.forEach(k => {
    const s = STYLE[k];
    const size = Array.isArray(s.size) ? s.size.map(v => v * p.scale) : s.size * p.scale;
    series.push({
      type: 'scatter', xAxisIndex: xi, yAxisIndex: yi, data: p.pts[k],
      symbol: s.symbol, symbolSize: size, silent: true, z: 2,
      itemStyle: {color: s.color, borderColor: '#000', borderWidth: 0.7, opacity: 1}
    });
  });
  speciesKeys.forEach(k => {
    series.push({
      type: 'line', xAxisIndex: xi, yAxisIndex: yi, data: p.fit[k],
      showSymbol: false, symbol: 'none', smooth: 0.25, silent: true, z: 3,
      lineStyle: {color: STYLE[k].line, width: 2}
    });
  });
  // label box at the top centre of each panel
  graphics.push({
    type: 'text', z: 100, x: p.rect[0] + p.rect[2] / 2, y: p.rect[1] + 18.5,
    style: {text: panelNames[gi], font: '14px ' + SANS, fill: '#000',
            align: 'center', verticalAlign: 'middle', textAlign: 'center', textVerticalAlign: 'middle',
            backgroundColor: '#fff', borderColor: '#000', borderWidth: 1, padding: [5, 5, 4, 5]}
  });
});

// text runs laid out left to right (mixed fonts, subscripts, superscripts)
const measureCtx = document.createElement('canvas').getContext('2d');
function textWidth(t, font) { measureCtx.font = font; return measureCtx.measureText(t).width; }
function runsWidth(runs) { return runs.reduce((w, r) => w + (r.gap || textWidth(r.t, r.font)), 0); }
function placeRunsFrom(runs, x0, cy) {
  let x = x0;
  const pos = [];
  runs.forEach(r => {
    if (r.gap) { x += r.gap; pos.push(null); return; }
    const w = textWidth(r.t, r.font);
    graphics.push({type: 'text', z: 100, x: x, y: cy + (r.dy || 0),
      style: {text: r.t, font: r.font, fill: r.color || '#000', align: 'left', textAlign: 'left',
              verticalAlign: 'middle', textVerticalAlign: 'middle'}});
    pos.push([x, x + w]);
    x += w;
  });
  return pos;
}
function placeRuns(runs, cx, cy) { return placeRunsFrom(runs, cx - runsWidth(runs) / 2, cy); }

// legend line: one entry per oxide
const LF = '25px ' + SERIF, LS = '17px ' + SERIF, DOT = '12px ' + SANS;
const legendEntries = [
  {x: 304, runs: [{t: '\u25CF', font: DOT, color: '#b22222', dy: 1}, {t: 'Na', font: LF, color: '#b22222'},
                  {t: '2', font: LS, color: '#b22222', dy: 9}, {t: 'O', font: LF, color: '#b22222'}]},
  {x: 404, runs: [{t: '\u25A0', font: '24px ' + SANS, color: '#1cbcbc'}, {t: 'CaO', font: LF, color: '#1cbcbc'}]},
  {x: 500, runs: [{t: '\u25C6', font: '21px ' + SANS, color: '#4b0082'}, {t: 'Al', font: LF, color: '#4b0082'},
                  {t: '2', font: LS, color: '#4b0082', dy: 9}, {t: 'O', font: LF, color: '#4b0082'},
                  {t: '3', font: LS, color: '#4b0082', dy: 9}]},
  {x: 612, runs: [{t: '\u25CF', font: DOT, color: '#f2e000', dy: 1}, {t: 'SiO', font: LF, color: '#f2e000'},
                  {t: '2', font: LS, color: '#f2e000', dy: 9}]}
];
legendEntries.forEach(e => placeRunsFrom(e.runs, e.x, 19));

// figure title
placeRuns([
  {t: 'Experiments at ', font: '22px ' + SANS},
  {t: '1280', font: '23px ' + SERIF},
  {t: '\u00B0', font: '18px ' + SERIF, dy: -4},
  {t: '  C', font: '22px ' + SANS}
], 490, 55);

// x-axis captions under the bottom row
function xCaption(cx) {
  const MF = 'italic 28px ' + SERIF, RF = '28px ' + SERIF, SF = '18px ' + SERIF;
  const pos = placeRuns([
    {t: 'x', font: MF}, {t: '/', font: RF}, {t: '\u221A', font: RF}, {t: 't', font: MF},
    {t: '    (', font: RF}, {t: '\u03BC', font: MF}, {t: 'm.s', font: RF},
    {t: '\u22121/2', font: SF, dy: -8}, {t: ')', font: RF}
  ], cx, 663);
  graphics.push({type: 'line', z: 100,
    shape: {x1: pos[2][1] - 2, y1: 650.5, x2: pos[3][1] + 1, y2: 650.5},
    style: {stroke: '#000', lineWidth: 1}});
}
xCaption(171);
xCaption(496.5);

const chart = echarts.init(document.getElementById('chart'), null, {renderer: 'canvas'});
chart.setOption({
  backgroundColor: '#fff',
  animation: false,
  grid: grids,
  xAxis: xAxes,
  yAxis: yAxes,
  series: series,
  graphic: {elements: graphics}
});
</script>
</body>
</html>
